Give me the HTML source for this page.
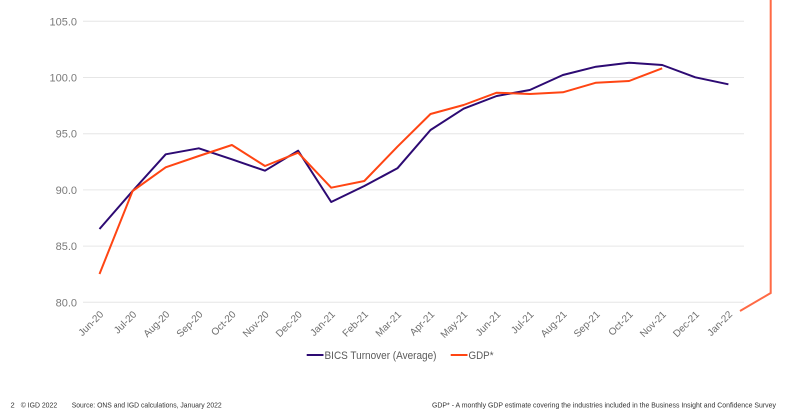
<!DOCTYPE html>
<html>
<head>
<meta charset="utf-8">
<style>
  html,body{margin:0;padding:0;background:#fff;}
  body{width:800px;height:416px;overflow:hidden;}
  svg{display:block;}
  text{font-family:"Liberation Sans",sans-serif;}
</style>
</head>
<body>
<svg width="800" height="416" viewBox="0 0 800 416" xmlns="http://www.w3.org/2000/svg">
  <rect width="800" height="416" fill="#fff"/>
  <!-- gridlines -->
  <g stroke="#e6e6e6" stroke-width="1">
    <line x1="83" y1="21.3" x2="744" y2="21.3"/>
    <line x1="83" y1="77.5" x2="744" y2="77.5"/>
    <line x1="83" y1="133.7" x2="744" y2="133.7"/>
    <line x1="83" y1="189.9" x2="744" y2="189.9"/>
    <line x1="83" y1="246.1" x2="744" y2="246.1"/>
    <line x1="83" y1="302.3" x2="744" y2="302.3"/>
  </g>
  <!-- y labels -->
  <g font-size="11" fill="#7a7a7a" text-anchor="end">
    <text x="77" y="25.3">105.0</text>
    <text x="77" y="81.5">100.0</text>
    <text x="77" y="137.7">95.0</text>
    <text x="77" y="193.9">90.0</text>
    <text x="77" y="250.1">85.0</text>
    <text x="77" y="306.3">80.0</text>
  </g>
  <!-- x labels -->
  <g font-size="10" fill="#6e6e6e" text-anchor="end">
    <text transform="translate(104,315) rotate(-45)">Jun-20</text>
    <text transform="translate(137.1,315) rotate(-45)">Jul-20</text>
    <text transform="translate(170.2,315) rotate(-45)">Aug-20</text>
    <text transform="translate(203.3,315) rotate(-45)">Sep-20</text>
    <text transform="translate(236.4,315) rotate(-45)">Oct-20</text>
    <text transform="translate(269.5,315) rotate(-45)">Nov-20</text>
    <text transform="translate(302.6,315) rotate(-45)">Dec-20</text>
    <text transform="translate(335.7,315) rotate(-45)">Jan-21</text>
    <text transform="translate(368.8,315) rotate(-45)">Feb-21</text>
    <text transform="translate(401.9,315) rotate(-45)">Mar-21</text>
    <text transform="translate(435.0,315) rotate(-45)">Apr-21</text>
    <text transform="translate(468.1,315) rotate(-45)">May-21</text>
    <text transform="translate(501.2,315) rotate(-45)">Jun-21</text>
    <text transform="translate(534.3,315) rotate(-45)">Jul-21</text>
    <text transform="translate(567.4,315) rotate(-45)">Aug-21</text>
    <text transform="translate(600.5,315) rotate(-45)">Sep-21</text>
    <text transform="translate(633.6,315) rotate(-45)">Oct-21</text>
    <text transform="translate(666.7,315) rotate(-45)">Nov-21</text>
    <text transform="translate(699.8,315) rotate(-45)">Dec-21</text>
    <text transform="translate(732.9,315) rotate(-45)">Jan-22</text>
  </g>
  <!-- BICS series -->
  <polyline fill="none" stroke="#2d0a73" stroke-width="2" stroke-linejoin="round"
    points="99.5,229 132.6,191 165.7,154.3 198.8,148.3 231.9,159.3 265.0,170.7 298.1,150.7 331.2,202 364.3,186 397.4,168.3 430.5,130 463.6,108.7 496.7,96 529.8,90 562.9,75 596.0,66.7 629.1,62.7 662.2,65 695.3,77.3 728.4,84.3"/>
  <!-- GDP series -->
  <polyline fill="none" stroke="#ff4513" stroke-width="2" stroke-linejoin="round"
    points="99.5,274 132.6,191 165.7,167.3 198.8,156 231.9,145 265.0,166 298.1,152.7 331.2,187.7 364.3,181 397.4,146.7 430.5,114 463.6,105 496.7,92.7 529.8,94 562.9,92.3 596.0,82.7 629.1,81 662.2,68.3"/>
  <!-- right orange decorative line -->
  <polyline fill="none" stroke="#ff6a45" stroke-width="2" points="770.7,0 770.7,293 740,311"/>
  <!-- legend -->
  <line x1="306.7" y1="355" x2="323.5" y2="355" stroke="#2d0a73" stroke-width="2"/>
  <text x="324.5" y="359" font-size="11" fill="#5a5a5a" textLength="112" lengthAdjust="spacingAndGlyphs">BICS Turnover (Average)</text>
  <line x1="450.7" y1="355" x2="467.5" y2="355" stroke="#ff4513" stroke-width="2"/>
  <text x="468.5" y="359" font-size="11" fill="#5a5a5a" textLength="25" lengthAdjust="spacingAndGlyphs">GDP*</text>
  <!-- footer -->
  <g font-size="7.5" fill="#333">
    <text x="10.5" y="407.5">2</text>
    <text x="20.7" y="407.5" textLength="36.5" lengthAdjust="spacingAndGlyphs">© IGD 2022</text>
    <text x="71.7" y="407.5" textLength="150" lengthAdjust="spacingAndGlyphs">Source: ONS and IGD calculations, January 2022</text>
    <text x="432" y="407.5" textLength="344" lengthAdjust="spacingAndGlyphs">GDP* - A monthly GDP estimate covering the industries included in the Business Insight and Confidence Survey</text>
  </g>
</svg>
</body>
</html>
